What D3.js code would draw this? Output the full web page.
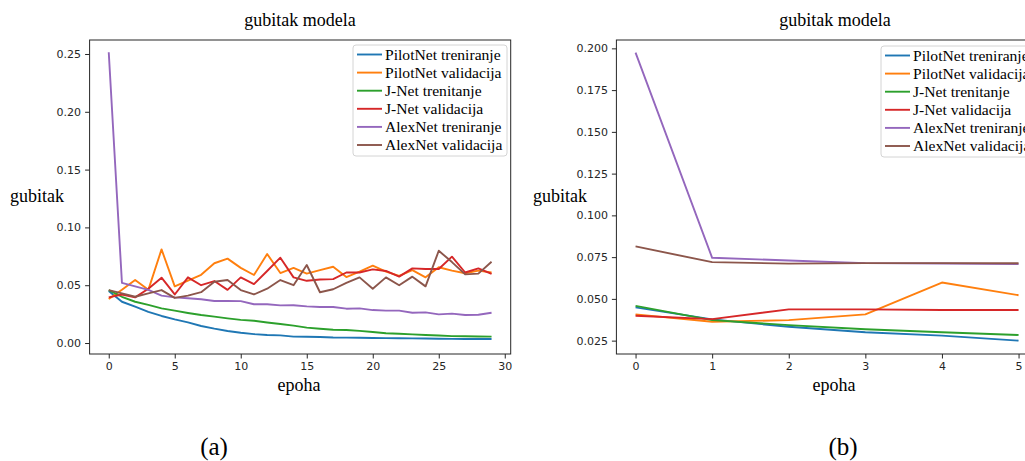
<!DOCTYPE html>
<html>
<head>
<meta charset="utf-8">
<script src="https://cdn.jsdelivr.net/npm/d3@7"></script>
<style>
  html, body { margin: 0; padding: 0; background: #fff; }
  svg { display: block; }
</style>
</head>
<body>
<svg id="chart" width="1025" height="461"></svg>
<script>
// ---------- DATA ----------
const seriesNames = ["PilotNet treniranje", "PilotNet validacija", "J-Net trenitanje",
                     "J-Net validacija", "AlexNet treniranje", "AlexNet validacija"];
const seriesColors = ["#1f77b4", "#ff7f0e", "#2ca02c", "#d62728", "#9467bd", "#8c564b"];

// Panel (a): 30 epochs
const epochsA = [0,1,2,3,4,5,6,7,8,9,10,11,12,13,14,15,16,17,18,19,20,21,22,23,24,25,26,27,28,29];
const pilotTrainA = [0.0450,0.0357,0.0314,0.0270,0.0234,0.0205,0.0179,0.0147,0.0124,0.0104,0.0089,0.0077,0.0069,0.0066,0.0055,0.0054,0.0052,0.0048,0.0047,0.0045,0.0043,0.0042,0.0041,0.0040,0.0039,0.0037,0.0036,0.0035,0.0035,0.0035];
const pilotValA   = [0.0380,0.0460,0.0545,0.0460,0.0810,0.0490,0.0540,0.0590,0.0690,0.0730,0.0650,0.0588,0.0770,0.0605,0.0650,0.0600,0.0630,0.0660,0.0570,0.0617,0.0669,0.0617,0.0580,0.0630,0.0568,0.0655,0.0626,0.0603,0.0626,0.0610];
const jnetTrainA  = [0.0458,0.0400,0.0357,0.0330,0.0300,0.0280,0.0260,0.0242,0.0228,0.0213,0.0200,0.0193,0.0178,0.0164,0.0150,0.0133,0.0123,0.0115,0.0112,0.0105,0.0095,0.0084,0.0080,0.0075,0.0069,0.0065,0.0060,0.0058,0.0057,0.0055];
const jnetValA    = [0.0395,0.0420,0.0395,0.0470,0.0565,0.0420,0.0568,0.0500,0.0536,0.0460,0.0568,0.0510,0.0623,0.0738,0.0568,0.0538,0.0550,0.0553,0.0610,0.0610,0.0637,0.0623,0.0574,0.0646,0.0640,0.0640,0.0747,0.0610,0.0646,0.0597];
const alexTrainA  = [0.2515,0.0520,0.0490,0.0460,0.0410,0.0395,0.0387,0.0378,0.0363,0.0363,0.0362,0.0335,0.0335,0.0326,0.0327,0.0317,0.0312,0.0312,0.0297,0.0300,0.0285,0.0280,0.0280,0.0262,0.0265,0.0248,0.0254,0.0242,0.0245,0.0262];
const alexValA    = [0.0458,0.0430,0.0400,0.0430,0.0458,0.0390,0.0410,0.0440,0.0530,0.0545,0.0458,0.0420,0.0470,0.0545,0.0500,0.0675,0.0439,0.0465,0.0520,0.0568,0.0470,0.0568,0.0500,0.0574,0.0490,0.0798,0.0700,0.0594,0.0600,0.0703];
const xTicksA = [0, 5, 10, 15, 20, 25, 30];
const yTicksA = [0.00, 0.05, 0.10, 0.15, 0.20, 0.25];

// Panel (b): 6 epochs
const epochsB = [0, 1, 2, 3, 4, 5];
const pilotTrainB = [0.0449, 0.0377, 0.0333, 0.0300, 0.0280, 0.0250];
const pilotValB   = [0.0407, 0.0363, 0.0373, 0.0407, 0.0598, 0.0522];
const jnetTrainB  = [0.0458, 0.0373, 0.0343, 0.0318, 0.0300, 0.0284];
const jnetValB    = [0.0399, 0.0379, 0.0437, 0.0437, 0.0433, 0.0433];
const alexTrainB  = [0.1974, 0.0746, 0.0730, 0.0714, 0.0712, 0.0708];
const alexValB    = [0.0814, 0.0720, 0.0711, 0.0714, 0.0714, 0.0713];
const xTicksB = [0, 1, 2, 3, 4, 5];
const yTicksB = [0.025, 0.050, 0.075, 0.100, 0.125, 0.150, 0.175, 0.200];

const titleText = "gubitak modela";
const xLabelText = "epoha";
const yLabelText = "gubitak";
const captions = ["(a)", "(b)"];

// ---------- DRAW ----------
const svg = d3.select("#chart");
svg.append("rect").attr("width", 1025).attr("height", 461).attr("fill", "#fff");

const serif = "'Liberation Serif', 'Times New Roman', serif";
const sans = "'DejaVu Sans', sans-serif";

function panel(cfg) {
  const g = svg.append("g");
  const x = d3.scaleLinear().domain(cfg.xDomain).range([cfg.left, cfg.right]);
  const y = d3.scaleLinear().domain(cfg.yDomain).range([cfg.bottom, cfg.top]);

  const clipId = "clip" + cfg.id;
  svg.append("defs").append("clipPath").attr("id", clipId)
    .append("rect").attr("x", cfg.left).attr("y", cfg.top)
    .attr("width", cfg.right - cfg.left).attr("height", cfg.bottom - cfg.top);

  // lines
  const line = d3.line().x((d, i) => x(cfg.epochs[i])).y(d => y(d));
  const lg = g.append("g").attr("clip-path", `url(#${clipId})`);
  cfg.series.forEach((s, k) => {
    lg.append("path").datum(s)
      .attr("fill", "none")
      .attr("stroke", seriesColors[k])
      .attr("stroke-width", 1.9)
      .attr("stroke-linejoin", "round")
      .attr("d", line);
  });

  // frame
  g.append("rect").attr("x", cfg.left).attr("y", cfg.top)
    .attr("width", cfg.right - cfg.left).attr("height", cfg.bottom - cfg.top)
    .attr("fill", "none").attr("stroke", "#262626").attr("stroke-width", 1);

  // axes
  const xa = g.append("g").attr("transform", `translate(0,${cfg.bottom})`)
    .call(d3.axisBottom(x).tickValues(cfg.xTicks).tickSize(4.5).tickPadding(4).tickFormat(d3.format("d")));
  const ya = g.append("g").attr("transform", `translate(${cfg.left},0)`)
    .call(d3.axisLeft(y).tickValues(cfg.yTicks).tickSize(4.5).tickPadding(4).tickFormat(d3.format(cfg.yFmt)));
  [xa, ya].forEach(a => {
    a.select(".domain").remove();
    a.selectAll("line").attr("stroke", "#262626");
    a.selectAll("text").attr("font-family", sans).attr("font-size", "11px").attr("fill", "#262626");
  });

  // title and labels
  g.append("text").attr("x", cfg.titleX).attr("y", 26).attr("text-anchor", "middle")
    .attr("font-family", serif).attr("font-size", "18px").attr("fill", "#000").text(titleText);
  g.append("text").attr("x", cfg.titleX - 1).attr("y", 391).attr("text-anchor", "middle")
    .attr("font-family", serif).attr("font-size", "18px").attr("fill", "#000").text(xLabelText);
  g.append("text").attr("x", cfg.yLabelX).attr("y", 202).attr("text-anchor", "start")
    .attr("font-family", serif).attr("font-size", "18px").attr("fill", "#000").text(yLabelText);
  g.append("text").attr("x", cfg.captionX).attr("y", 455).attr("text-anchor", "middle")
    .attr("font-family", serif).attr("font-size", "25px").attr("fill", "#000").text(cfg.caption);

  // legend
  const lgd = g.append("g");
  lgd.append("rect").attr("x", cfg.legX).attr("y", cfg.legY)
    .attr("width", cfg.legW).attr("height", 111).attr("rx", 3)
    .attr("fill", "#fff").attr("fill-opacity", 0.85)
    .attr("stroke", "#d4d4d4").attr("stroke-width", 1);
  seriesNames.forEach((name, k) => {
    const cy = cfg.legY + 9.5 + k * 18.1;
    lgd.append("line").attr("x1", cfg.legX + 4).attr("x2", cfg.legX + 29)
      .attr("y1", cy).attr("y2", cy)
      .attr("stroke", seriesColors[k]).attr("stroke-width", 1.9);
    lgd.append("text").attr("x", cfg.legX + 32).attr("y", cy + 5)
      .attr("font-family", serif).attr("font-size", "15.6px").attr("fill", "#000").text(name);
  });
}

panel({
  id: "A", left: 89.6, right: 510.7, top: 40, bottom: 354,
  xDomain: [-1.45, 30.45], yDomain: [-0.0095, 0.2621],
  epochs: epochsA,
  series: [pilotTrainA, pilotValA, jnetTrainA, jnetValA, alexTrainA, alexValA],
  xTicks: xTicksA, yTicks: yTicksA, yFmt: ".2f",
  titleX: 300, yLabelX: 10, captionX: 214, caption: captions[0],
  legX: 353, legY: 45, legW: 154
});

panel({
  id: "B", left: 616.4, right: 1037.7, top: 40, bottom: 354,
  xDomain: [-0.25, 5.25], yDomain: [0.0170, 0.2050],
  epochs: epochsB,
  series: [pilotTrainB, pilotValB, jnetTrainB, jnetValB, alexTrainB, alexValB],
  xTicks: xTicksB, yTicks: yTicksB, yFmt: ".3f",
  titleX: 835, yLabelX: 533, captionX: 843, caption: captions[1],
  legX: 881, legY: 46, legW: 160
});
</script>
</body>
</html>
